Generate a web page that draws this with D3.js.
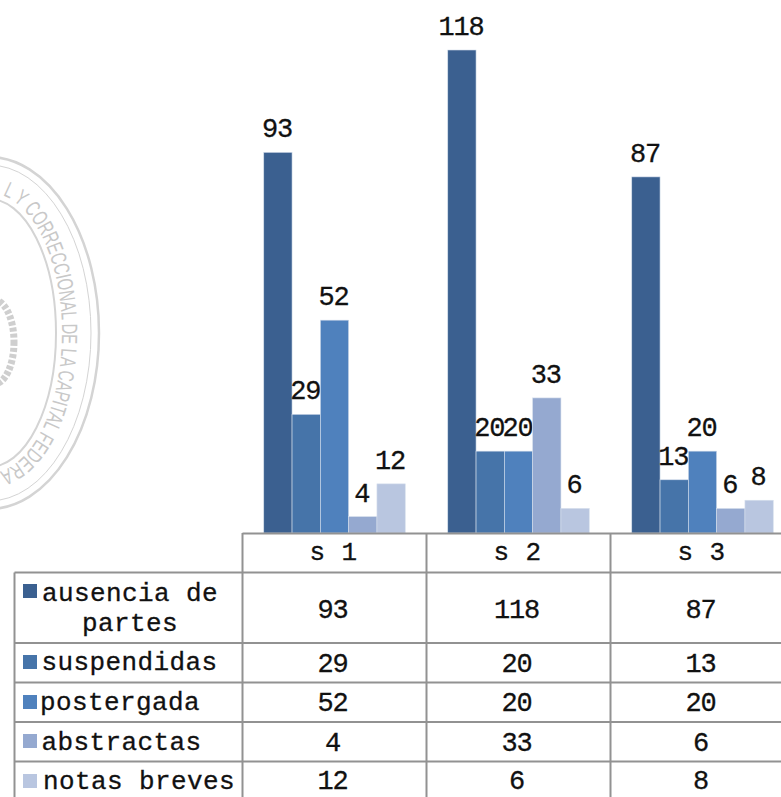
<!DOCTYPE html>
<html>
<head>
<meta charset="utf-8">
<script src="https://cdn.jsdelivr.net/npm/d3@7"></script>
<style>
  html, body { margin: 0; background: #fff; overflow: hidden; }
  text { font-family: "Liberation Mono", monospace; fill: #111; stroke: #111; stroke-width: 0.3px; }
  .num { font-size: 27px; letter-spacing: -1.2px; }
  .lab { font-size: 26px; letter-spacing: 0.4px; }
</style>
</head>
<body>
<script>
// Chart data
var categories = ["s 1", "s 2", "s 3"];
var seriesNames = ["ausencia de partes", "suspendidas", "postergada", "abstractas", "notas breves"];
var ausencia = [93, 118, 87];
var suspendidas = [29, 20, 13];
var postergada = [52, 20, 20];
var abstractas = [4, 33, 6];
var notasBreves = [12, 6, 8];
var seriesValues = [ausencia, suspendidas, postergada, abstractas, notasBreves];
var seriesColors = ["#3b6090", "#4674a9", "#4f81bd", "#95a9d0", "#b9c6e0"];

var width = 781, height = 797;
var baseline = 533;
var lineColor = "#929292";

var svg = d3.select("body").append("svg").attr("width", width).attr("height", height).style("display", "block");

// Scales
var x = d3.scaleBand().domain(categories).range([242.5, 794.5]).paddingInner(0.231).paddingOuter(0.1155);
var x1 = d3.scaleBand().domain(d3.range(seriesNames.length)).range([0, x.bandwidth()]);
var y = d3.scaleLinear().domain([0, 118]).range([baseline, 50]);

// Faded court seal behind the chart
var seal = svg.append("g").attr("fill", "none").attr("stroke", "#d4d4d4");
var sealCx = -11, sealCy = 333;
seal.append("ellipse").attr("cx", sealCx).attr("cy", sealCy).attr("rx", 110).attr("ry", 176).attr("stroke-width", 2.5);
seal.append("ellipse").attr("cx", sealCx).attr("cy", sealCy).attr("rx", 102).attr("ry", 168).attr("stroke-width", 1);
seal.append("ellipse").attr("cx", sealCx).attr("cy", sealCy).attr("rx", 67).attr("ry", 134).attr("stroke-width", 2);
seal.append("ellipse").attr("cx", -6).attr("cy", 342).attr("rx", 20).attr("ry", 42)
    .attr("stroke-width", 7).attr("stroke-dasharray", "4 2").attr("stroke", "#cfcfcf");

// Lettering follows an ellipse between the rings, starting near the top
var ringRx = 73, ringRy = 140;
svg.append("defs").append("path").attr("id", "sealRing")
    .attr("d", "M" + sealCx + "," + (sealCy - ringRy) +
        " A" + ringRx + "," + ringRy + " 0 0 1 " + sealCx + "," + (sealCy + ringRy));
svg.append("text")
    .style("font-family", "'Liberation Sans Narrow', 'Liberation Sans', sans-serif")
    .style("fill", "#c8c8c8")
    .style("stroke", "none")
    .attr("font-size", 22)
    .append("textPath").attr("href", "#sealRing").attr("startOffset", 14)
    .attr("textLength", 318).attr("lengthAdjust", "spacingAndGlyphs")
    .text("L Y CORRECCIONAL DE LA CAPITAL FEDERA");

// Bars
var groups = svg.selectAll(".group").data(categories).enter().append("g")
    .attr("class", "group")
    .attr("transform", function(d) { return "translate(" + x(d) + ",0)"; });

seriesNames.forEach(function(name, s) {
    groups.append("rect")
        .attr("x", x1(s))
        .attr("width", x1.bandwidth())
        .attr("y", function(d, i) { return y(seriesValues[s][i]); })
        .attr("height", function(d, i) { return baseline - y(seriesValues[s][i]); })
        .attr("fill", seriesColors[s])
        .attr("stroke", "#d5deec")
        .attr("stroke-width", 0.6);
    groups.append("text")
        .attr("class", "num")
        .attr("x", x1(s) + x1.bandwidth() / 2 - 1)
        .attr("y", function(d, i) { return y(seriesValues[s][i]) - 15; })
        .attr("text-anchor", "middle")
        .text(function(d, i) { return seriesValues[s][i]; });
});

// Data table under the chart
var rowTops = [572.5, 643, 682.5, 722, 761.5];
var valueBase = [618, 672, 711, 751, 789];
var tableLeft = 14.5, headLeft = 242.5;

function line(x1, y1, x2, y2) {
    svg.append("line").attr("x1", x1).attr("y1", y1).attr("x2", x2).attr("y2", y2)
        .attr("stroke", lineColor).attr("stroke-width", 2);
}
line(headLeft, baseline + 0.5, width, baseline + 0.5);
rowTops.forEach(function(t) { line(tableLeft, t, width, t); });
line(tableLeft, rowTops[0], tableLeft, height);
line(headLeft, baseline, headLeft, height);
line(x("s 2") - x.step() * 0.1155, baseline, x("s 2") - x.step() * 0.1155, height);
line(x("s 3") - x.step() * 0.1155, baseline, x("s 3") - x.step() * 0.1155, height);

// Header and value cells
categories.forEach(function(c, i) {
    var cx = x(c) + x.bandwidth() / 2 - 1;
    svg.append("text").attr("class", "lab").attr("x", cx).attr("y", 560).attr("text-anchor", "middle").text(c);
    seriesValues.forEach(function(vals, s) {
        svg.append("text").attr("class", "num").attr("x", cx - 1).attr("y", valueBase[s]).attr("text-anchor", "middle")
            .text(vals[i]);
    });
});

// Legend keys in the first column
var swatchTops = [584, 655, 695, 734, 774];
var labelBase = [601, 670, 710, 750, 789];
var labelLeft = [42, 41.5, 40, 41.5, 43];
seriesNames.forEach(function(name, s) {
    svg.append("rect").attr("x", 23).attr("y", swatchTops[s]).attr("width", 14).attr("height", 14)
        .attr("fill", seriesColors[s]);
    if (s === 0) {
        svg.append("text").attr("class", "lab").attr("x", labelLeft[s]).attr("y", labelBase[s]).text("ausencia de");
        svg.append("text").attr("class", "lab").attr("x", 130).attr("y", 631).attr("text-anchor", "middle").text("partes");
    } else {
        svg.append("text").attr("class", "lab").attr("x", labelLeft[s]).attr("y", labelBase[s]).text(name);
    }
});
</script>
</body>
</html>
